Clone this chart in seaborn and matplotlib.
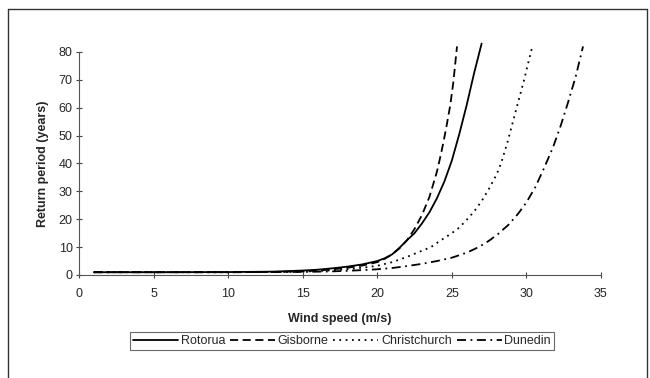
import matplotlib
matplotlib.use("Agg")
import matplotlib.pyplot as plt
from matplotlib.lines import Line2D
import numpy as np
import pandas as pd
import seaborn as sns

# values
rotorua_x = [1, 5, 10, 13, 15, 16, 17, 18, 19, 20, 20.5, 21, 21.5, 22, 22.5, 23, 23.5,
             24, 24.5, 25, 25.5, 26, 26.5, 27.0]
rotorua_y = [1.0, 1.0, 1.05, 1.2, 1.6, 1.9, 2.4, 3.0, 3.8, 5.0, 6.0, 7.4, 9.8, 12.5, 15,
             18.5, 22.5, 27.5, 33.5, 41, 50.5, 61, 72.5, 83]

gisborne_x = [1, 5, 10, 13, 15, 16, 17, 18, 19, 20, 20.5, 21, 21.5, 22, 22.5, 23, 23.5,
              24, 24.3, 24.6, 24.9, 25.1, 25.35]
gisborne_y = [1.0, 1.0, 1.0, 1.1, 1.3, 1.6, 2.0, 2.6, 3.4, 4.6, 5.8, 7.4, 9.6, 12.5, 16.5,
              21.5, 28, 37, 44, 52, 61, 69, 82]

christ_x = [1, 5, 10, 15, 16, 17, 18, 19, 20, 21, 22, 23, 23.6, 24, 25, 25.5, 26, 26.5,
            27, 27.5, 28, 28.3, 28.7, 29.2, 29.8, 30.4]
christ_y = [1.0, 1.0, 1.0, 1.2, 1.4, 1.7, 2.1, 2.6, 3.3, 4.6, 6.5, 8.7, 10, 11.5, 15, 17,
            19.8, 22.8, 26.5, 31, 36, 40, 47, 57, 69, 82]

dunedin_x = [1, 5, 10, 15, 16, 17, 18, 19, 20, 21, 22, 23, 24, 25, 26, 26.8, 27.5, 28.1,
             28.8, 29.45, 30, 30.6, 31.2, 31.8, 32.3, 32.8, 33.3, 33.8]
dunedin_y = [1.0, 1.0, 1.0, 1.1, 1.2, 1.3, 1.5, 1.75, 2.05, 2.5, 3.2, 4.0, 5.0, 6.2, 8.0,
             10, 12.3, 14.7, 18, 22, 26, 31.5, 38.5, 46, 53.5, 62, 71, 82]

cities = ["Rotorua", "Gisborne", "Christchurch", "Dunedin"]
xs = [rotorua_x, gisborne_x, christ_x, dunedin_x]
ys = [rotorua_y, gisborne_y, christ_y, dunedin_y]

frames = []
for c, x, y in zip(cities, xs, ys):
    frames.append(pd.DataFrame({"speed": x, "period": y, "city": c}))
df = pd.concat(frames, ignore_index=True)

sns.set_style("white")
plt.rcParams["font.family"] = ["Liberation Sans", "DejaVu Sans"]

fig = plt.figure(figsize=(6.5, 3.78), dpi=100)
ax = fig.add_axes([0.1215, 0.2725, 0.803, 0.59])

dashes = {"Rotorua": "", "Gisborne": (4.5, 2.5), "Christchurch": (1, 2.5),
          "Dunedin": (5, 2.5, 1, 2.5)}
sns.lineplot(data=df, x="speed", y="period", hue="city", style="city",
             palette=["black"] * 4, dashes=dashes, sort=False,
             linewidth=1.3, ax=ax, legend=False)
for ln in ax.lines:
    ln.set_clip_on(False)

ax.set_xlim(0, 35)
ax.set_ylim(0, 80)
ax.set_xticks(range(0, 36, 5))
ax.set_yticks(range(0, 81, 10))
ax.set_xlabel("Wind speed (m/s)", fontsize=9, fontweight="bold", labelpad=9)
ax.set_ylabel("Return period (years)", fontsize=9, fontweight="bold", labelpad=7)
ax.tick_params(axis="both", labelsize=9, direction="inout", length=5,
               width=0.8, color="#444444", left=True, bottom=True)
ax.tick_params(axis="x", pad=7)
ax.tick_params(axis="y", pad=2)
for s in ["top", "right"]:
    ax.spines[s].set_visible(False)
for s in ["left", "bottom"]:
    ax.spines[s].set_color("#555555")
    ax.spines[s].set_linewidth(0.8)

handles = [Line2D([], [], color="black", lw=1.3,
                  linestyle=(0, dashes[c]) if dashes[c] else "-") for c in cities]
leg = fig.legend(handles, cities, loc="center", bbox_to_anchor=(0.526, 0.098),
                 ncol=4, fontsize=9, frameon=True, fancybox=False,
                 handlelength=3.6, handletextpad=0.2, columnspacing=0.4,
                 borderpad=0.25, borderaxespad=0)
leg.get_frame().set_edgecolor("#444444")
leg.get_frame().set_linewidth(0.8)

# outer chart border
for xx, yy in [([0.0123, 0.0123], [0.0, 0.976]),
               ([0.0123, 0.996], [0.976, 0.976]),
               ([0.996, 0.996], [0.0, 0.976])]:
    fig.add_artist(Line2D(xx, yy, color="#333333", lw=1.0, transform=fig.transFigure))

fig.savefig("out.png", dpi=100)
